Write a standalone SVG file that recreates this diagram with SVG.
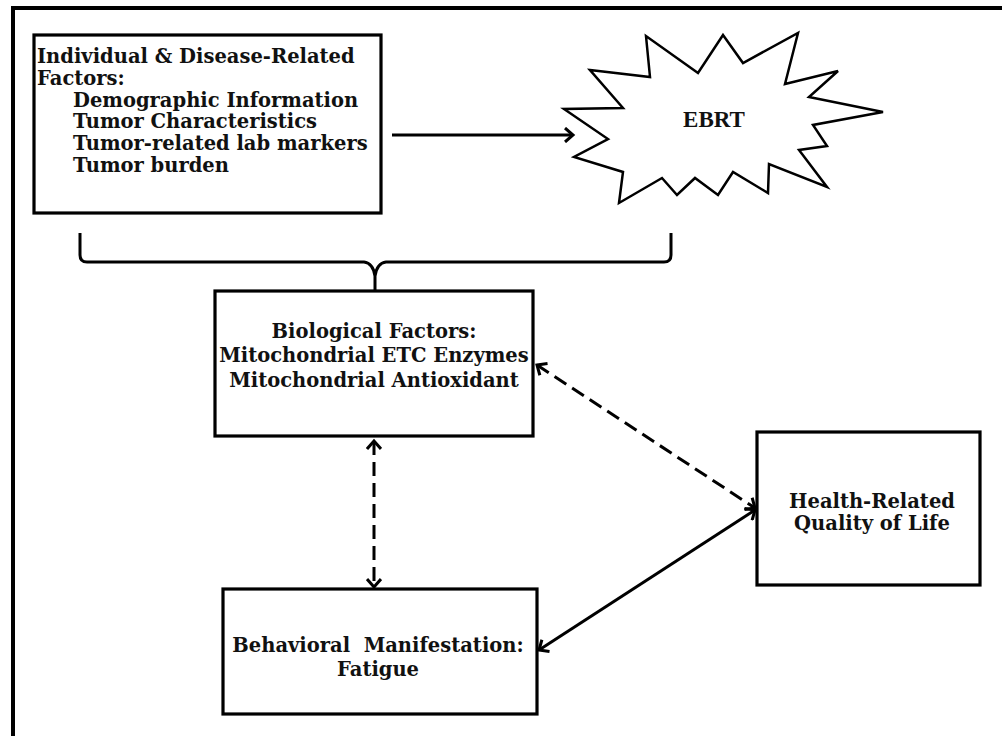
<svg xmlns="http://www.w3.org/2000/svg" width="1002" height="736" viewBox="0 0 1002 736">
<style>
.box{fill:#fff;stroke:#000;stroke-width:3.2}
.t{font-family:"DejaVu Serif",serif;font-weight:bold;font-size:19.5px;fill:#111}
.c{text-anchor:middle}
.ln{fill:none;stroke:#000;stroke-width:3}
.dash{stroke-dasharray:14 7}
</style>
<defs>
<marker id="ah" markerUnits="userSpaceOnUse" markerWidth="16" markerHeight="16" viewBox="0 0 16 16" refX="12" refY="8" orient="auto-start-reverse">
<path d="M4,1 L12,8 L4,15" fill="none" stroke="#000" stroke-width="3"/>
</marker>
</defs>
<rect width="1002" height="736" fill="#fff"/>
<path d="M13,736 L13,8 L1002,8" fill="none" stroke="#000" stroke-width="4"/>

<g id="factors">
<rect class="box" x="34" y="35" width="347" height="178"/>
<text class="t" x="37" y="63">Individual &amp; Disease-Related</text>
<text class="t" x="37" y="85">Factors:</text>
<text class="t" x="73" y="107">Demographic Information</text>
<text class="t" x="73" y="128">Tumor Characteristics</text>
<text class="t" x="73" y="150">Tumor-related lab markers</text>
<text class="t" x="73" y="172">Tumor burden</text>
</g>

<g id="ebrt">
<polygon points="590,70 650,77 646,36 698,73 723,35 743,63 798,33 785,84 838,71 809,97 883,112 813,125 827,146 799,150 827,187 769,164 768,193 733,172 718,195 695,178 677,195 662,178 619,203 623,172 574,157 608,139 564,109 623,108" fill="#fff" stroke="#000" stroke-width="2.5" stroke-linejoin="miter"/>
<text x="714" y="127" text-anchor="middle" font-family="'Liberation Serif',serif" font-weight="bold" font-size="23" fill="#111">EBRT</text>
</g>

<g id="biological">
<rect class="box" x="215" y="291" width="318" height="145"/>
<text class="t c" x="374" y="338">Biological Factors:</text>
<text class="t c" x="374" y="362">Mitochondrial ETC Enzymes</text>
<text class="t c" x="374" y="387">Mitochondrial Antioxidant</text>
</g>

<g id="hrqol">
<rect class="box" x="757" y="432" width="223" height="153"/>
<text class="t c" x="872" y="508">Health-Related</text>
<text class="t c" x="872" y="530">Quality of Life</text>
</g>

<g id="fatigue">
<rect class="box" x="223" y="589" width="314" height="125"/>
<text class="t c" x="378" y="652" xml:space="preserve">Behavioral  Manifestation:</text>
<text class="t c" x="378" y="676">Fatigue</text>
</g>

<g id="connectors">
<line class="ln" x1="392" y1="135" x2="573" y2="135" marker-end="url(#ah)"/>
<path class="ln" d="M80,233 L80,255 Q80,262 87,262 L364,262 Q373,263 375,276 Q377,263 386,262 L664,262 Q671,262 671,255 L671,233 M375,274 L375,291"/>
<line class="ln dash" x1="374" y1="441" x2="374" y2="587" marker-start="url(#ah)" marker-end="url(#ah)"/>
<line class="ln dash" x1="537" y1="365" x2="755" y2="508" marker-start="url(#ah)" marker-end="url(#ah)"/>
<line class="ln" x1="755" y1="510" x2="539" y2="650" marker-start="url(#ah)" marker-end="url(#ah)"/>
</g>
</svg>
